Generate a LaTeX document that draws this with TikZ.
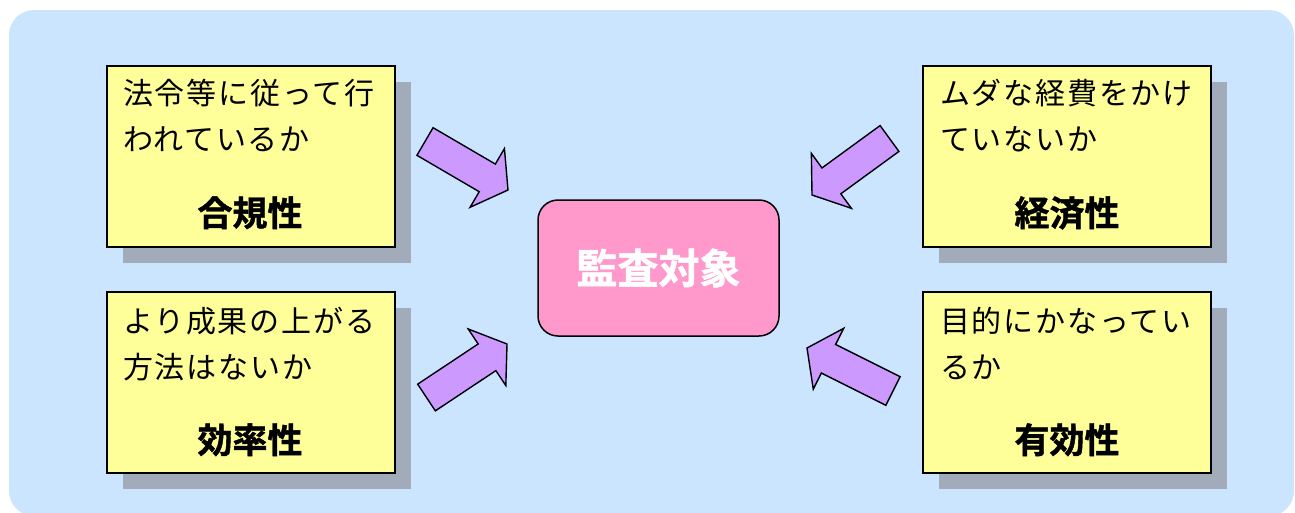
\documentclass[tikz,border=0pt]{standalone}
\usepackage{fontspec}
\usetikzlibrary{calc,shadows}
\newfontfamily\jp[LetterSpace=6]{Noto Sans CJK JP}
\newfontfamily\jpb[FakeBold=1.2]{Noto Sans CJK JP Bold}
\definecolor{bgblue}{HTML}{CCE5FF}
\definecolor{boxyellow}{HTML}{FFFF99}
\definecolor{shadowc}{HTML}{A2ABB9}
\definecolor{centerpink}{HTML}{FF99CC}
\definecolor{arrowpurple}{HTML}{CC99FF}
\tikzset{
  ybox/.style={draw=black, line width=2pt, fill=boxyellow, minimum width=288pt, minimum height=181pt, anchor=north west, inner sep=0,
    drop shadow={shadow xshift=16pt, shadow yshift=-16pt, fill=shadowc, opacity=1}},
  linetext/.style={font=\jp\fontsize{30}{30}\selectfont, anchor=base west, inner sep=0},
  titletext/.style={font=\jpb\fontsize{35}{35}\selectfont, anchor=base, inner sep=0},
  centerbox/.style={draw=black, line width=1.5pt, fill=centerpink, rounded corners=20pt, minimum width=241pt, minimum height=136pt, inner sep=0,
    font=\jpb\fontsize{41}{41}\selectfont, text=white},
  blockarrow/.style={draw=black, line width=1.4pt, fill=arrowpurple, line join=miter}
}
\newcommand{\blockarrowdraw}[2]{%
  \draw[blockarrow]
    ($(#1)!16pt!90:(#2)$) --
    ($($(#2)!24pt!(#1)$)!16pt!-90:(#1)$) --
    ($($(#2)!24pt!(#1)$)!34pt!-90:(#1)$) --
    (#2) --
    ($($(#2)!24pt!(#1)$)!34pt!90:(#1)$) --
    ($($(#2)!24pt!(#1)$)!16pt!90:(#1)$) --
    ($(#1)!16pt!-90:(#2)$) -- cycle;}
\begin{document}
\begin{tikzpicture}[x=1pt,y=-1pt]
\useasboundingbox (0,0) rectangle (1295,512);
\begin{scope}
\clip (0,0) rectangle (1295,512);
\fill[bgblue, rounded corners=25pt] (9,10) rectangle (1294,516);
\end{scope}

% boxes
\node[ybox] (b1) at (106,65) {};
\node[ybox] (b2) at (922,65) {};
\node[ybox] (b3) at (106,291) {};
\node[ybox] (b4) at (922,291) {};

% texts top-left
\node[linetext] (t1a) at (123,104) {法令等に従って行};
\node[linetext] (t1b) at (123,150) {われているか};
\node[titletext] (t1c) at (250,226) {合規性};
% top-right
\node[linetext] (t2a) at (940,104) {ムダな経費をかけ};
\node[linetext] (t2b) at (940,150) {ていないか};
\node[titletext] (t2c) at (1067,226) {経済性};
% bottom-left
\node[linetext] (t3a) at (123,332) {より成果の上がる};
\node[linetext] (t3b) at (123,378) {方法はないか};
\node[titletext] (t3c) at (250,453) {効率性};
% bottom-right
\node[linetext] (t4a) at (940,332) {目的にかなってい};
\node[linetext] (t4b) at (940,378) {るか};
\node[titletext] (t4c) at (1067,453) {有効性};

% center
\node[centerbox] (c) at (658.5,268) {監査対象};

% arrows
\coordinate (a1t) at (425,141.5);  \coordinate (a1h) at (508,190);
\coordinate (a2t) at (889.5,138.5); \coordinate (a2h) at (812,195);
\coordinate (a3t) at (426.5,397.5); \coordinate (a3h) at (507,344);
\coordinate (a4t) at (893,391);    \coordinate (a4h) at (807,348);
\blockarrowdraw{a1t}{a1h}
\blockarrowdraw{a2t}{a2h}
\blockarrowdraw{a3t}{a3h}
\blockarrowdraw{a4t}{a4h}
\end{tikzpicture}
\end{document}
